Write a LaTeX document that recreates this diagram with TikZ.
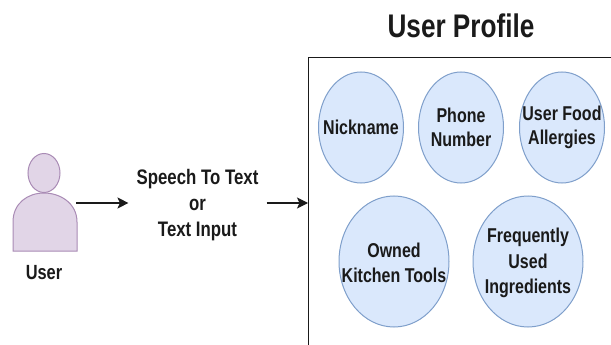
\documentclass[tikz,border=0pt]{standalone}
\usepackage{fontspec}
\setmainfont{Liberation Sans}
\newfontfamily\lab[FakeStretch=0.8]{Liberation Sans Bold}
\usetikzlibrary{arrows.meta,shapes.geometric}
\definecolor{ink}{HTML}{1A1A1A}
\definecolor{bluefill}{HTML}{DAE8FC}
\definecolor{blueline}{HTML}{7F9FCB}
\definecolor{purplefill}{HTML}{E1D5E7}
\definecolor{purpleline}{HTML}{A98BB5}
\tikzset{
  field/.style={ellipse,draw=blueline,fill=bluefill,line width=1pt,inner sep=0pt},
  fieldtext/.style={align=center,text=ink,inner sep=0pt,font=\lab\fontsize{20}{24.5}\selectfont},
  bigtext/.style={fieldtext,yshift=-1.5pt,font=\lab\fontsize{20}{25.2}\selectfont},
  smallfield/.style={field,minimum width=85pt,minimum height=111pt},
  bigfield/.style={field,minimum width=110pt,minimum height=131pt},
  caption/.style={align=center,text=ink,font=\lab\fontsize{21}{26}\selectfont},
  flow/.style={draw=ink,line width=1.2pt,-{Stealth[length=11pt,width=11pt,inset=2.5pt]}},
  person/.style={draw=purpleline,fill=purplefill,line width=1pt},
  frameline/.style={draw=ink,line width=1pt}
}
\begin{document}
\begin{tikzpicture}[x=1pt,y=-1pt]
\useasboundingbox (0,0) rectangle (611,345);
\fill[white] (0,0) rectangle (611,345);
\draw[frameline] (611,58) -- (308,58) -- (308,345);
\coordinate (frameleft) at (308,203);
\coordinate (userright) at (76,203);
\draw[person] (13,251) -- (13,222) .. controls (13,203) and (28,193) .. (44,193)
  .. controls (60,193) and (77,203) .. (77,222) -- (77,251) -- cycle;
\node[ellipse,person,minimum width=32pt,minimum height=39pt,inner sep=0pt] (head) at (44,173) {};
\node[fieldtext,font=\lab\fontsize{20.5}{24}\selectfont] (userlabel) at (44,273) {User};
\node[caption,inner xsep=8pt] (input) at (197.5,205) {Speech To Text\\or\\Text Input};
\node[font=\lab\fontsize{32.7}{34}\selectfont,text=ink] (title) at (461,26) {User Profile};
\node[smallfield,label={[fieldtext]center:Nickname}] (nick) at (361,127.5) {};
\node[smallfield,label={[fieldtext]center:Phone\\Number}] (phone) at (461,127.5) {};
\node[smallfield,label={[fieldtext]center:User Food\\Allergies}] (allergy) at (562,127.5) {};
\node[bigfield,label={[bigtext]center:Owned\\Kitchen Tools}] (tools) at (394,261.5) {};
\node[bigfield,label={[bigtext]center:Frequently\\Used\\Ingredients}] (ingredients) at (528,261.5) {};
\draw[flow] (userright) -- (input.west |- userright) ;
\draw[flow] (input.east |- frameleft) -- (frameleft);
\end{tikzpicture}
\end{document}
